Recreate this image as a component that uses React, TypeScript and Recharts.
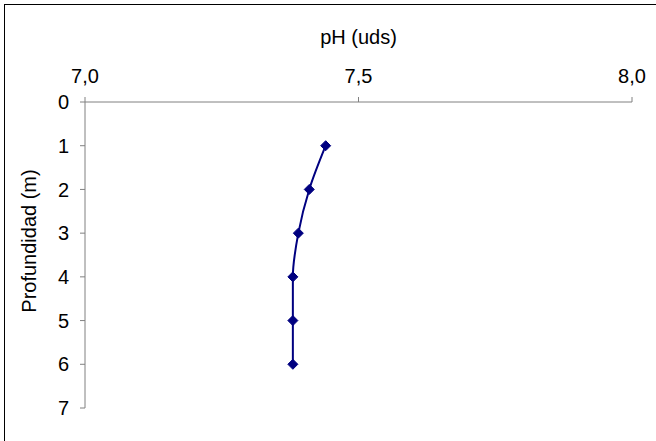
import { LineChart, Line, XAxis, YAxis } from "recharts";

const depths = [1, 2, 3, 4, 5, 6];
const phValues = [7.44, 7.41, 7.39, 7.38, 7.38, 7.38];
const phTicks = [7.0, 7.5, 8.0];
const depthTicks = [0, 1, 2, 3, 4, 5, 6, 7];

const data = depths.map((d, i) => ({ depth: d, ph: phValues[i] }));

const font = "'Liberation Sans', Arial, sans-serif";
const axisGrey = "#808080";

const Diamond = (props: any) => {
  const { cx, cy } = props;
  if (cx == null || cy == null) return null;
  const r = 5;
  return (
    <polygon
      points={`${cx},${cy - r} ${cx + r},${cy} ${cx},${cy + r} ${cx - r},${cy}`}
      fill="#000080"
      stroke="#000080"
    />
  );
};

export default function App() {
  return (
    <div style={{ position: "fixed", left: 0, top: 0, width: 656, height: 441, background: "#fff" }}>
      <div
        style={{
          position: "absolute",
          left: 4,
          top: 4,
          width: 652,
          height: 437,
          borderLeft: "1px solid #000",
          borderTop: "1px solid #000",
        }}
      />
      <div style={{ position: "absolute", left: 0, top: 0 }}>
        <LineChart
          layout="vertical"
          width={656}
          height={441}
          data={data}
          margin={{ top: 0, right: 24, bottom: 33, left: 0 }}
        >
          <XAxis
            type="number"
            dataKey="ph"
            orientation="top"
            domain={[7, 8]}
            ticks={phTicks}
            height={102}
            tickFormatter={(v: number) => v.toFixed(1).replace(".", ",")}
            axisLine={{ stroke: axisGrey }}
            tickLine={{ stroke: axisGrey }}
            tickSize={5}
            tickMargin={14}
            tick={{ fill: "#000", fontSize: 20, fontFamily: font }}
            label={{
              value: "pH (uds)",
              position: "insideTop",
              offset: 30,
              fill: "#000",
              fontSize: 20,
              fontFamily: font,
            }}
          />
          <YAxis
            type="number"
            dataKey="depth"
            domain={[0, 7]}
            ticks={depthTicks}
            width={85}
            axisLine={{ stroke: axisGrey }}
            tickLine={{ stroke: axisGrey }}
            tickSize={5}
            tickMargin={11}
            tick={{ fill: "#000", fontSize: 20, fontFamily: font }}
            label={{
              value: "Profundidad (m)",
              angle: -90,
              position: "center",
              dx: -14,
              dy: -14,
              fill: "#000",
              fontSize: 20,
              fontFamily: font,
            }}
          />
          <Line
            type="monotone"
            dataKey="ph"
            stroke="#000080"
            strokeWidth={2}
            dot={<Diamond />}
            activeDot={false}
            isAnimationActive={false}
          />
        </LineChart>
      </div>
    </div>
  );
}
